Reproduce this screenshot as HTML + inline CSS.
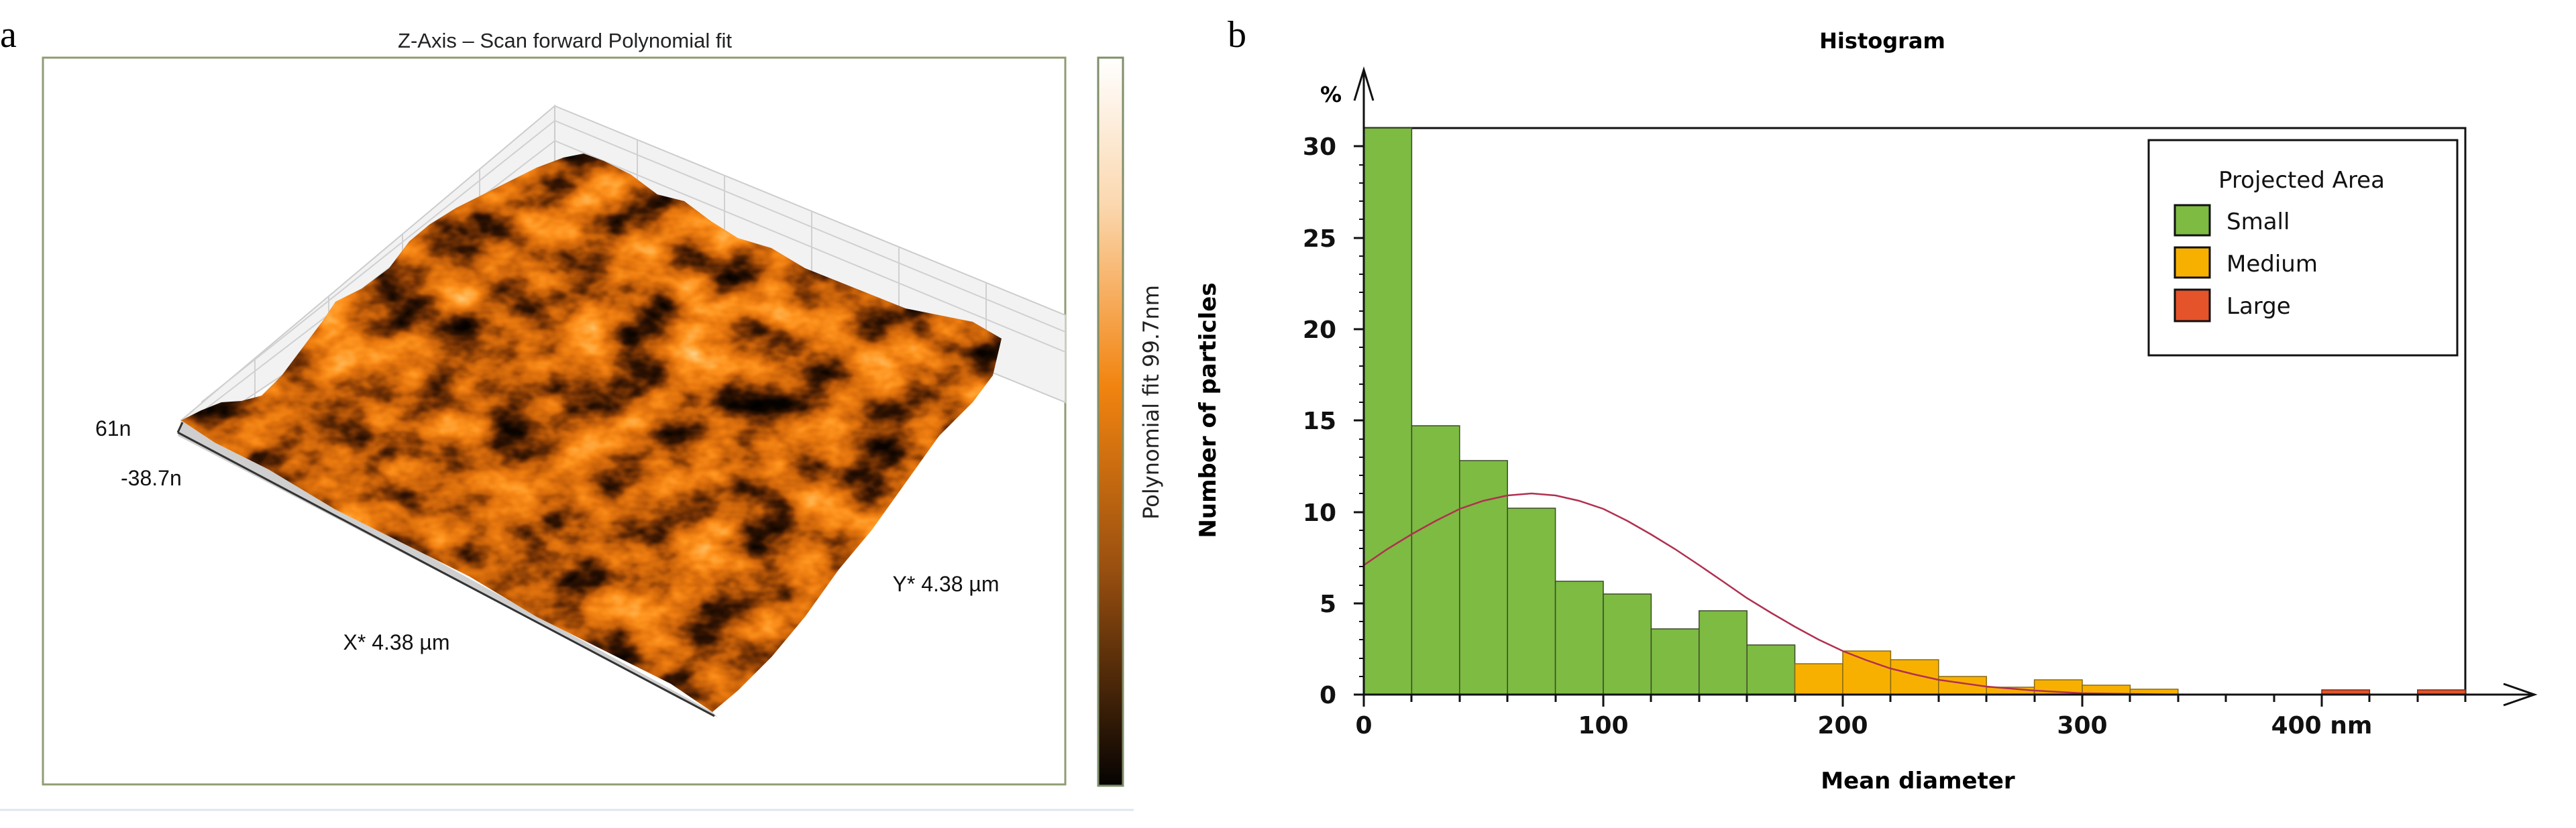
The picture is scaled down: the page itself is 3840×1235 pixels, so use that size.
<!DOCTYPE html>
<html><head><meta charset="utf-8">
<style>
html,body{margin:0;padding:0;background:#fff;}
svg{display:block;}
</style></head>
<body>
<svg width="3840" height="1235" viewBox="0 0 3840 1235" xmlns="http://www.w3.org/2000/svg">
<defs>
  <filter id="tex" x="0" y="0" width="100%" height="100%" color-interpolation-filters="sRGB">
    <feTurbulence type="fractalNoise" baseFrequency="0.011 0.016" numOctaves="4" seed="7" result="n"/>
    <feColorMatrix type="matrix" values="1 0 0 0 0  1 0 0 0 0  1 0 0 0 0  0 0 0 0 1"/>
    <feComponentTransfer>
      <feFuncR type="table" tableValues="0 0 0.05 0.2 0.5 0.78 0.92 1 1 1 1"/>
      <feFuncG type="table" tableValues="0 0 0.02 0.08 0.22 0.38 0.48 0.58 0.7 0.85 0.95"/>
      <feFuncB type="table" tableValues="0 0 0 0.01 0.02 0.04 0.06 0.12 0.3 0.6 0.85"/>
    </feComponentTransfer>
  </filter>
  <clipPath id="surf">
    <polygon points="270,627 300,612 330,600 360,598 390,590 420,560 450,520 480,480 500,450 540,430 580,400 610,360 640,335 680,310 720,290 760,270 800,250 840,235 870,229 900,240 940,260 980,290 1020,300 1060,330 1100,355 1150,370 1200,400 1250,420 1300,440 1350,460 1400,470 1450,480 1493,505 1480,560 1450,600 1400,650 1350,720 1300,790 1250,850 1200,920 1150,980 1100,1030 1062,1062 1000,1020 900,970 800,920 700,860 600,810 500,760 400,700 320,660"/>
  </clipPath>
  <linearGradient id="cb" x1="0" y1="0" x2="0" y2="1">
    <stop offset="0" stop-color="#ffffff"/>
    <stop offset="0.2" stop-color="#fbd8b0"/>
    <stop offset="0.45" stop-color="#f28410"/>
    <stop offset="0.7" stop-color="#9a5010"/>
    <stop offset="1" stop-color="#050302"/>
  </linearGradient>
</defs>

<!-- Panel a -->
<text x="0" y="70" font-family="Liberation Serif, serif" font-size="56">a</text>
<text x="842" y="71" text-anchor="middle" font-family="Liberation Sans, sans-serif" font-size="31" fill="#222">Z-Axis – Scan forward Polynomial fit</text>
<rect x="64" y="86" width="1524" height="1084" fill="#fff" stroke="#8f9c74" stroke-width="3"/>
<rect x="1637" y="86" width="37" height="1086" fill="url(#cb)" stroke="#7f8f6a" stroke-width="3"/>
<text transform="translate(1727,600) rotate(-90)" text-anchor="middle" font-family="DejaVu Sans, sans-serif" font-size="32" fill="#222">Polynomial fit 99.7nm</text>
<line x1="0" y1="1208" x2="1690" y2="1208" stroke="#dfe6ec" stroke-width="3"/>

<!-- grid walls -->
<polygon points="270,627 827,158 827,290 300,640" fill="#f2f2f2" stroke="#ccc" stroke-width="2"/>
<polygon points="827,158 1588,470 1588,600 827,290" fill="#f2f2f2" stroke="#ccc" stroke-width="2"/>
<g stroke="#d0d0d0" stroke-width="2">
  <line x1="380" y1="535" x2="380" y2="620"/><line x1="490" y1="442" x2="490" y2="560"/>
  <line x1="600" y1="350" x2="600" y2="500"/><line x1="715" y1="253" x2="715" y2="400"/>
  <line x1="950" y1="208" x2="950" y2="340"/><line x1="1080" y1="262" x2="1080" y2="395"/>
  <line x1="1210" y1="315" x2="1210" y2="445"/><line x1="1340" y1="368" x2="1340" y2="500"/>
  <line x1="1470" y1="422" x2="1470" y2="550"/>
  <line x1="300" y1="600" x2="827" y2="180"/><line x1="300" y1="615" x2="827" y2="210"/>
  <line x1="827" y1="180" x2="1588" y2="495"/><line x1="827" y1="210" x2="1588" y2="525"/>
</g>
<!-- side face -->
<polygon points="270,627 1062,1062 1070,1070 265,650" fill="#cfcfcf"/>
<line x1="265" y1="645" x2="1065" y2="1068" stroke="#333" stroke-width="3"/>
<line x1="265" y1="645" x2="272" y2="630" stroke="#333" stroke-width="3"/>
<!-- surface -->
<g clip-path="url(#surf)">
  <rect x="250" y="200" width="1260" height="880" filter="url(#tex)"/>
</g>
<text x="142" y="650" font-family="Liberation Sans, sans-serif" font-size="32" fill="#111">61n</text>
<text x="180" y="724" font-family="Liberation Sans, sans-serif" font-size="32" fill="#111">-38.7n</text>
<text x="591" y="969" text-anchor="middle" font-family="Liberation Sans, sans-serif" font-size="32" fill="#111">X* 4.38 µm</text>
<text x="1410" y="882" text-anchor="middle" font-family="Liberation Sans, sans-serif" font-size="32" fill="#111">Y* 4.38 µm</text>

<!-- Panel b -->
<text x="1830" y="70" font-family="Liberation Serif, serif" font-size="56">b</text>
<text x="2806" y="72" text-anchor="middle" font-family="DejaVu Sans, sans-serif" font-weight="bold" font-size="32">Histogram</text>
<text x="1968" y="152" font-family="DejaVu Sans, sans-serif" font-weight="bold" font-size="32">%</text>
<text transform="translate(1812,612) rotate(-90)" text-anchor="middle" font-family="DejaVu Sans, sans-serif" font-weight="bold" font-size="34">Number of particles</text>
<text x="2859" y="1176" text-anchor="middle" font-family="DejaVu Sans, sans-serif" font-weight="bold" font-size="34">Mean diameter</text>

<rect x="2033" y="191" width="1642" height="845" fill="#fff" stroke="#111" stroke-width="3"/>

<g stroke="#3d4a2a" stroke-width="1.5">
<rect x="2033" y="191" width="71.4" height="845" fill="#7dbb42"/>
<rect x="2104.4" y="635" width="71.4" height="401" fill="#7dbb42"/>
<rect x="2175.8" y="687" width="71.4" height="349" fill="#7dbb42"/>
<rect x="2247.2" y="758" width="71.4" height="278" fill="#7dbb42"/>
<rect x="2318.6" y="867" width="71.4" height="169" fill="#7dbb42"/>
<rect x="2390" y="886" width="71.4" height="150" fill="#7dbb42"/>
<rect x="2461.4" y="938" width="71.4" height="98" fill="#7dbb42"/>
<rect x="2532.8" y="911" width="71.4" height="125" fill="#7dbb42"/>
<rect x="2604.2" y="962" width="71.4" height="74" fill="#7dbb42"/>
</g>
<g stroke="#8a6a10" stroke-width="1.5">
<rect x="2675.6" y="990" width="71.4" height="46" fill="#f8b000"/>
<rect x="2747" y="971" width="71.4" height="65" fill="#f8b000"/>
<rect x="2818.4" y="984" width="71.4" height="52" fill="#f8b000"/>
<rect x="2889.8" y="1009" width="71.4" height="27" fill="#f8b000"/>
<rect x="2961.2" y="1025" width="71.4" height="11" fill="#f8b000"/>
<rect x="3032.6" y="1014" width="71.4" height="22" fill="#f8b000"/>
<rect x="3104" y="1022" width="71.4" height="14" fill="#f8b000"/>
<rect x="3175.4" y="1028" width="71.4" height="8" fill="#f8b000"/>
</g>
<g stroke="#7a2a10" stroke-width="1.5" fill="#e5532a">
<rect x="3461" y="1029" width="71.4" height="7"/>
<rect x="3603.8" y="1029" width="71.4" height="7"/>
</g>

<polyline fill="none" stroke="#b03050" stroke-width="2.5" points="2033,843 2068,819 2104,797 2140,777 2176,759 2211,747 2247,739 2283,736 2319,739 2354,747 2390,759 2426,777 2461,797 2497,819 2533,843 2568,867 2604,892 2640,914 2676,935 2711,954 2747,971 2783,985 2818,997 2854,1006 2890,1014 2961,1024 3033,1030 3104,1034 3247,1036"/>

<!-- axes -->
<line x1="2033" y1="1036" x2="3775" y2="1036" stroke="#111" stroke-width="3"/>
<polyline points="3732,1020 3778,1036 3732,1052" fill="none" stroke="#111" stroke-width="3"/>
<line x1="2033" y1="1036" x2="2033" y2="105" stroke="#111" stroke-width="3"/>
<polyline points="2019,150 2033,104 2047,150" fill="none" stroke="#111" stroke-width="3"/>
<g stroke="#111" stroke-width="3">
<line x1="2018" y1="1036" x2="2033" y2="1036"/><line x1="2018" y1="900" x2="2033" y2="900"/>
<line x1="2018" y1="764" x2="2033" y2="764"/><line x1="2018" y1="627" x2="2033" y2="627"/>
<line x1="2018" y1="491" x2="2033" y2="491"/><line x1="2018" y1="355" x2="2033" y2="355"/>
<line x1="2018" y1="218" x2="2033" y2="218"/>
</g>
<g stroke="#111" stroke-width="2">
<line x1="2026" y1="1009" x2="2033" y2="1009"/><line x1="2026" y1="982" x2="2033" y2="982"/><line x1="2026" y1="954" x2="2033" y2="954"/><line x1="2026" y1="927" x2="2033" y2="927"/>
<line x1="2026" y1="873" x2="2033" y2="873"/><line x1="2026" y1="845" x2="2033" y2="845"/><line x1="2026" y1="818" x2="2033" y2="818"/><line x1="2026" y1="791" x2="2033" y2="791"/>
<line x1="2026" y1="736" x2="2033" y2="736"/><line x1="2026" y1="709" x2="2033" y2="709"/><line x1="2026" y1="682" x2="2033" y2="682"/><line x1="2026" y1="655" x2="2033" y2="655"/>
<line x1="2026" y1="600" x2="2033" y2="600"/><line x1="2026" y1="573" x2="2033" y2="573"/><line x1="2026" y1="546" x2="2033" y2="546"/><line x1="2026" y1="518" x2="2033" y2="518"/>
<line x1="2026" y1="464" x2="2033" y2="464"/><line x1="2026" y1="436" x2="2033" y2="436"/><line x1="2026" y1="409" x2="2033" y2="409"/><line x1="2026" y1="382" x2="2033" y2="382"/>
<line x1="2026" y1="327" x2="2033" y2="327"/><line x1="2026" y1="300" x2="2033" y2="300"/><line x1="2026" y1="273" x2="2033" y2="273"/><line x1="2026" y1="246" x2="2033" y2="246"/>
</g>
<g stroke="#111" stroke-width="3">
<line x1="2033" y1="1036" x2="2033" y2="1054"/><line x1="2104" y1="1036" x2="2104" y2="1047"/><line x1="2176" y1="1036" x2="2176" y2="1047"/><line x1="2247" y1="1036" x2="2247" y2="1047"/><line x1="2319" y1="1036" x2="2319" y2="1047"/>
<line x1="2390" y1="1036" x2="2390" y2="1054"/><line x1="2461" y1="1036" x2="2461" y2="1047"/><line x1="2533" y1="1036" x2="2533" y2="1047"/><line x1="2604" y1="1036" x2="2604" y2="1047"/><line x1="2676" y1="1036" x2="2676" y2="1047"/>
<line x1="2747" y1="1036" x2="2747" y2="1054"/><line x1="2818" y1="1036" x2="2818" y2="1047"/><line x1="2890" y1="1036" x2="2890" y2="1047"/><line x1="2961" y1="1036" x2="2961" y2="1047"/><line x1="3033" y1="1036" x2="3033" y2="1047"/>
<line x1="3104" y1="1036" x2="3104" y2="1054"/><line x1="3175" y1="1036" x2="3175" y2="1047"/><line x1="3247" y1="1036" x2="3247" y2="1047"/><line x1="3318" y1="1036" x2="3318" y2="1047"/><line x1="3390" y1="1036" x2="3390" y2="1047"/>
<line x1="3461" y1="1036" x2="3461" y2="1054"/><line x1="3532" y1="1036" x2="3532" y2="1047"/><line x1="3604" y1="1036" x2="3604" y2="1047"/><line x1="3675" y1="1036" x2="3675" y2="1047"/>
</g>
<g font-family="DejaVu Sans, sans-serif" font-weight="bold" font-size="36" fill="#111">
<text x="1992" y="1049" text-anchor="end">0</text>
<text x="1992" y="913" text-anchor="end">5</text>
<text x="1992" y="777" text-anchor="end">10</text>
<text x="1992" y="640" text-anchor="end">15</text>
<text x="1992" y="504" text-anchor="end">20</text>
<text x="1992" y="368" text-anchor="end">25</text>
<text x="1992" y="231" text-anchor="end">30</text>
<text x="2033" y="1094" text-anchor="middle">0</text>
<text x="2390" y="1094" text-anchor="middle">100</text>
<text x="2747" y="1094" text-anchor="middle">200</text>
<text x="3104" y="1094" text-anchor="middle">300</text>
<text x="3461" y="1094" text-anchor="middle">400 nm</text>
</g>

<!-- legend -->
<rect x="3203" y="209" width="460" height="321" fill="#fff" stroke="#111" stroke-width="3"/>
<g font-family="DejaVu Sans, sans-serif" font-size="34" fill="#111">
<text x="3431" y="280" text-anchor="middle">Projected Area</text>
<rect x="3242" y="306" width="52" height="45" fill="#7dbb42" stroke="#111" stroke-width="3"/>
<text x="3319" y="342">Small</text>
<rect x="3242" y="369" width="52" height="45" fill="#f8b000" stroke="#111" stroke-width="3"/>
<text x="3319" y="405">Medium</text>
<rect x="3242" y="432" width="52" height="47" fill="#e5532a" stroke="#111" stroke-width="3"/>
<text x="3319" y="468">Large</text>
</g>
</svg>
</body></html>
